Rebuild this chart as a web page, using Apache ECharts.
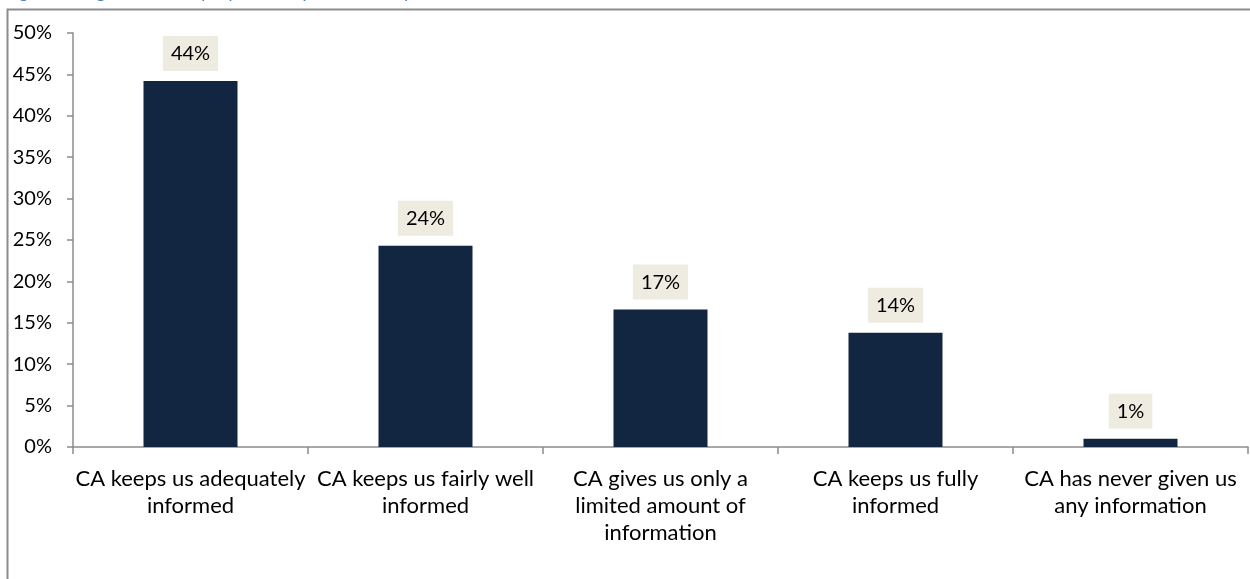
<!DOCTYPE html>
<html>
<head>
<meta charset="utf-8">
<script src="https://cdn.jsdelivr.net/npm/echarts@6/dist/echarts.min.js"></script>
<style>
  html, body { margin: 0; padding: 0; background: #ffffff; }
  #chart { width: 1250px; height: 579px; }
</style>
</head>
<body>
<div id="chart"></div>
<script>
// Answer categories (line breaks as they wrap under each bar)
const categories = [
  'CA keeps us adequately\ninformed',
  'CA keeps us fairly well\ninformed',
  'CA gives us only a\nlimited amount of\ninformation',
  'CA keeps us fully\ninformed',
  'CA has never given us\nany information'
];
// Share of respondents, percent
const shares = [44.2, 24.3, 16.6, 13.8, 1.0];
// Value axis ticks
const yTicks = [0, 5, 10, 15, 20, 25, 30, 35, 40, 45, 50];

const FONT = 'Lato, "Open Sans", sans-serif';
const AXIS_GREY = '#8c8c8c';

const chart = echarts.init(document.getElementById('chart'), null, { renderer: 'canvas' });

chart.setOption({
  animation: false,
  backgroundColor: '#ffffff',
  title: {
    text: 'Figure 9: Degree to which people feel kept informed by CA',
    left: 2,
    top: -22,
    textStyle: { color: '#4f81bd', fontStyle: 'italic', fontWeight: 'normal', fontSize: 18, fontFamily: FONT }
  },
  graphic: [{
    type: 'rect',
    silent: true,
    z: -1,
    shape: { x: 7.5, y: 9.5, width: 1400, height: 800 },
    style: { fill: '#ffffff', stroke: AXIS_GREY, lineWidth: 2 }
  }],
  grid: { left: 73, right: 2, top: 33, bottom: 132, containLabel: false },
  xAxis: {
    type: 'category',
    data: categories,
    axisLine: { lineStyle: { color: AXIS_GREY, width: 1.5 } },
    axisTick: { show: true, length: 7, alignWithLabel: false, lineStyle: { color: AXIS_GREY, width: 1.5 } },
    axisLabel: {
      interval: 0,
      margin: 18,
      color: '#000000',
      fontSize: 22,
      lineHeight: 27,
      fontFamily: FONT
    },
    splitLine: { show: false }
  },
  yAxis: {
    type: 'value',
    min: yTicks[0],
    max: yTicks[yTicks.length - 1],
    interval: 5,
    axisLine: { show: true, lineStyle: { color: AXIS_GREY, width: 1.5 } },
    axisTick: { show: true, inside: false, length: 6, lineStyle: { color: AXIS_GREY, width: 1.5 } },
    axisLabel: {
      margin: 21,
      color: '#000000',
      fontSize: 20,
      fontFamily: FONT,
      formatter: v => v + '%'
    },
    splitLine: { show: false }
  },
  series: [{
    type: 'bar',
    data: shares,
    barWidth: '40%',
    itemStyle: { color: '#132641' },
    label: {
      show: true,
      position: 'top',
      distance: 10,
      color: '#000000',
      fontSize: 20,
      fontFamily: FONT,
      backgroundColor: '#eeece1',
      padding: [8, 8, 7, 8],
      formatter: p => Math.round(p.value) + '%'
    }
  }]
});
</script>
</body>
</html>
